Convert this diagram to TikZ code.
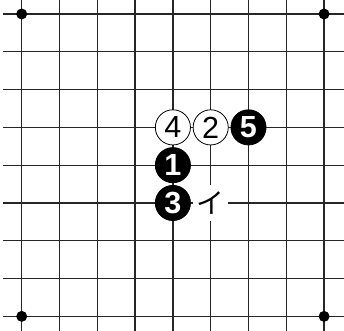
\documentclass[tikz,border=0pt]{standalone}
\usepackage{fontspec}
\setmainfont{Liberation Sans}
\newfontfamily\jpfont{Noto Sans CJK JP}
\usepackage{tikz}

\begin{document}
\begin{tikzpicture}[x=1cm, y=-1cm,
	stone/.style={circle, draw=black, line width=0.6pt, minimum size=0.93cm, inner sep=0pt},
	blackstone/.style={stone, fill=black, text=white, font=\bfseries\fontsize{23}{23}\selectfont},
	whitestone/.style={stone, fill=white, text=black, font=\fontsize{23}{23}\selectfont},
	marklabel/.style={fill=white, minimum width=0.93cm, minimum height=0.97cm, inner sep=0pt, font=\jpfont\fontsize{21}{21}\selectfont}]
	\useasboundingbox (-0.574, -0.370) rectangle (8.527, 8.386);
	\foreach \i in {0,...,8} {
		\draw [line width=1pt, black!85] (-0.5, \i) -- (8.527, \i);
		\draw [line width=1pt, black!85] (\i, -0.370) -- (\i, 8.386);
	}
	\fill (0, 0) circle (0.145);
	\fill (8, 0) circle (0.145);
	\fill (0, 8) circle (0.145);
	\fill (8, 8) circle (0.145);
	\node [marklabel] (i) at (5, 5) {イ};
	\node [blackstone] (s1) at (4, 4) {1};
	\node [whitestone] (s2) at (5, 3) {2};
	\node [blackstone] (s3) at (4, 5) {3};
	\node [whitestone] (s4) at (4, 3) {4};
	\node [blackstone] (s5) at (6, 3) {5};
\end{tikzpicture}
\end{document}
